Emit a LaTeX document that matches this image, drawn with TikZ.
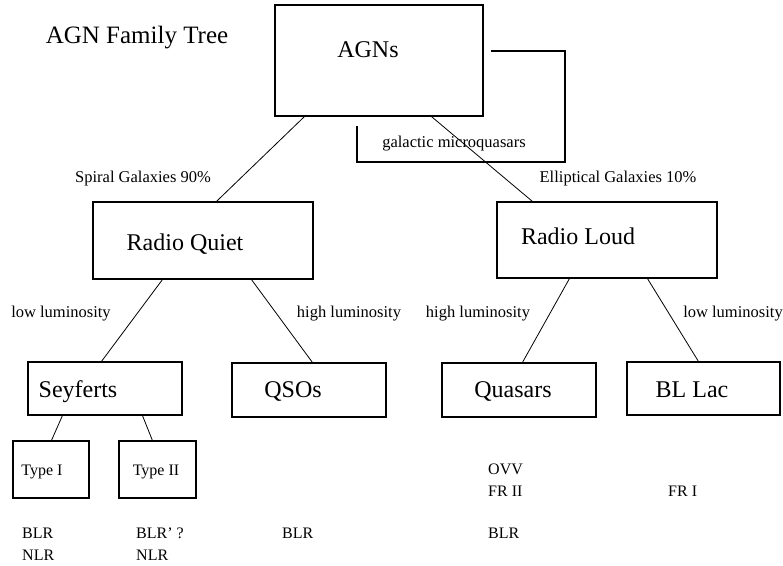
\documentclass[tikz,border=0pt]{standalone}
\usepackage{fontspec}
\setmainfont{Liberation Serif}
\usetikzlibrary{calc}
\begin{document}
\begin{tikzpicture}[x=1pt,y=-1pt,
  boxnode/.style={draw, line width=1.1pt, inner sep=0pt},
  conn/.style={line width=0.8pt},
  bigtext/.style={font=\fontsize{24}{28}\selectfont, inner sep=0pt, anchor=base},
  smalltext/.style={font=\fontsize{16.5}{19}\selectfont, inner sep=0pt, anchor=base},
  lefttext/.style={font=\fontsize{16}{19}\selectfont, inner sep=0pt, anchor=base west}]
\useasboundingbox[fill=white] (0,0) rectangle (783,565);

% boxes
\node[boxnode, minimum width=208pt, minimum height=111pt] (agn) at (379,60.5) {};
\node[boxnode, minimum width=220pt, minimum height=77pt] (rq) at (203,240.5) {};
\node[boxnode, minimum width=220pt, minimum height=76pt] (rl) at (607,240) {};
\node[boxnode, minimum width=154pt, minimum height=53pt] (sey) at (105,388.5) {};
\node[boxnode, minimum width=154pt, minimum height=54pt] (qso) at (309,390) {};
\node[boxnode, minimum width=154pt, minimum height=54pt] (qua) at (519,390) {};
\node[boxnode, minimum width=153pt, minimum height=53pt] (bll) at (703.5,388.5) {};
\node[boxnode, minimum width=76pt, minimum height=57pt] (t1) at (51,469.5) {};
\node[boxnode, minimum width=77pt, minimum height=57pt] (t2) at (157.5,469.5) {};

% box texts
\node[bigtext, font=\fontsize{25}{29}\selectfont] (title) at (137,43) {AGN Family Tree};
\node[bigtext] (agnt) at (368,57) {AGNs};
\node[bigtext] (rqt) at (185,250) {Radio Quiet};
\node[bigtext] (rlt) at (578,244) {Radio Loud};
\node[bigtext] (seyt) at (78,397) {Seyferts};
\node[bigtext] (qsot) at (293,397) {QSOs};
\node[bigtext] (quat) at (513,397) {Quasars};
\node[bigtext] (bllt) at (692,397) {BL Lac};
\node[smalltext, font=\fontsize{16}{19}\selectfont] (t1t) at (42,475) {Type I};
\node[smalltext, font=\fontsize{16}{19}\selectfont] (t2t) at (156,475) {Type II};

% connectors
\draw[conn] ($(agn.south west)+(30,0)$) -- ($(rq.north west)+(124,0)$);
\draw[conn] ($(agn.south west)+(157,0)$) -- ($(rl.north west)+(36,0)$);
\draw[conn] ($(rq.south west)+(70,0)$) -- ($(sey.north west)+(74,0)$);
\draw[conn] ($(rq.south west)+(159,0)$) -- ($(qso.north west)+(81,0)$);
\draw[conn] ($(rl.south west)+(73,0)$) -- ($(qua.north west)+(81,0)$);
\draw[conn] ($(rl.south west)+(151,0)$) -- ($(bll.north west)+(72,0)$);
\draw[conn] ($(sey.south west)+(35,0)$) -- ($(t1.north west)+(39,0)$);
\draw[conn] ($(sey.south west)+(115,0)$) -- ($(t2.north west)+(34,0)$);

% microquasar bracket
\coordinate (mqa) at (491,51);
\coordinate (mqb) at (565,51);
\coordinate (mqc) at (565,162);
\coordinate (mqd) at (357,162);
\coordinate (mqe) at (357,126);
\draw[line width=1.1pt] (mqa) -- (mqb) -- (mqc) -- (mqd) -- (mqe);
\node[smalltext] (mqt) at (454,147) {galactic microquasars};

% edge labels
\node[smalltext] (spiral) at (143,182) {Spiral Galaxies 90\%};
\node[smalltext] (ellip) at (618,182) {Elliptical Galaxies 10\%};
\node[smalltext] (lowl) at (61,317) {low luminosity};
\node[smalltext] (highl) at (349,317) {high luminosity};
\node[smalltext] (highr) at (478,317) {high luminosity};
\node[smalltext] (lowr) at (733,317) {low luminosity};

% bottom labels
\node[lefttext] (blr1) at (22,538) {BLR};
\node[lefttext] (nlr1) at (22,560) {NLR};
\node[lefttext] (blr2) at (136,538) {BLR\textquoteright\ ?};
\node[lefttext] (nlr2) at (136,560) {NLR};
\node[lefttext] (blr3) at (282,538) {BLR};
\node[lefttext] (ovv) at (488,474) {OVV};
\node[lefttext] (fr2) at (488,496) {FR II};
\node[lefttext] (blr4) at (488,538) {BLR};
\node[lefttext] (fr1) at (668,496) {FR I};
\end{tikzpicture}
\end{document}
